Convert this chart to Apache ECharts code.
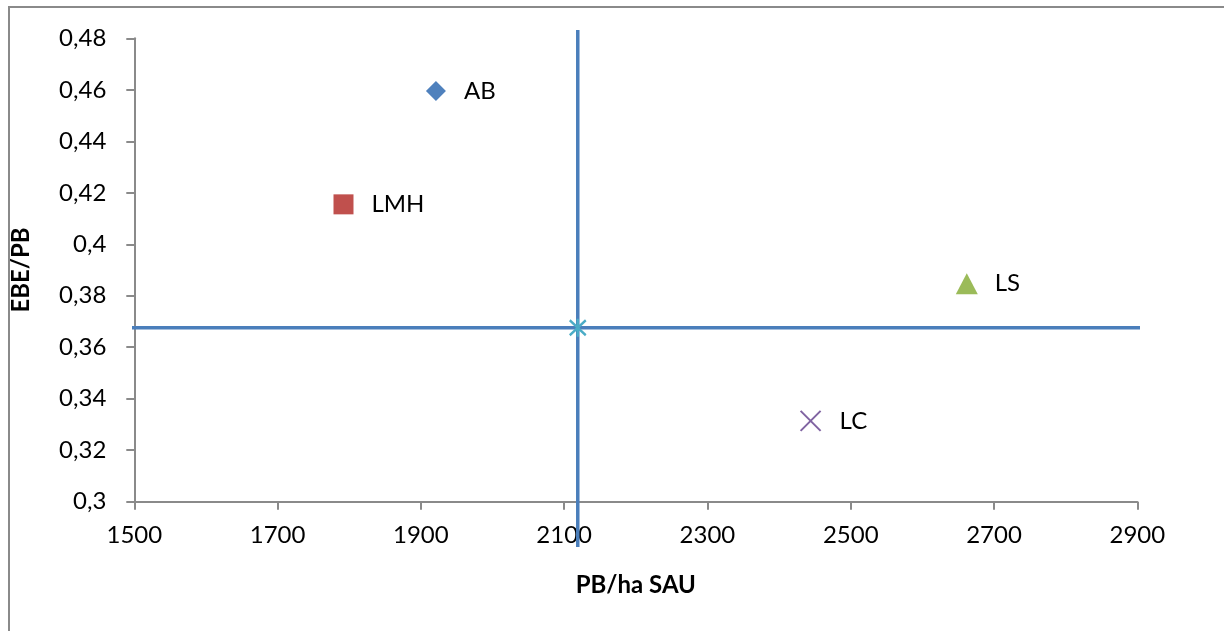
<!DOCTYPE html>
<html>
<head>
<meta charset="utf-8">
<script src="https://cdn.jsdelivr.net/npm/echarts@6/dist/echarts.min.js"></script>
<style>html,body{margin:0;padding:0;background:#fff}#c{width:1224px;height:631px}</style>
</head>
<body>
<div id="c"></div>
<script>
// Data
const names = ['AB', 'LMH', 'LS', 'LC'];
const xValues = [1921, 1792, 2662, 2444];
const yValues = [0.4595, 0.4155, 0.3847, 0.3314];
const centerX = 2119;
const centerY = 0.3676;
const vLineY = [0.4832, 0.2824];
const hLineX = [1495, 2905];
const xTicks = {min: 1500, max: 2900, interval: 200};
const yTicks = {min: 0.3, max: 0.48, interval: 0.02};

const colors = ['#4F81BD', '#C0504D', '#9BBB59', '#8064A2'];
const symbols = ['diamond', 'rect', 'triangle', 'path://M0,0L10,10M10,0L0,10'];
const sizes = [[20, 20], [20, 20], [22, 21], [20, 20]];
const FONT = 'Lato';

const fmt = v => String(+(+v).toFixed(2)).replace('.', ',');

const chart = echarts.init(document.getElementById('c'), null, {renderer: 'canvas'});

const pointSeries = names.map((n, i) => {
  const isCross = i === 3;
  return {
    type: 'scatter',
    name: n,
    data: [[xValues[i], yValues[i]]],
    symbol: symbols[i],
    symbolSize: sizes[i],
    itemStyle: isCross
      ? {color: 'rgba(0,0,0,0)', borderColor: colors[i], borderWidth: 2, opacity: 1}
      : {color: colors[i], opacity: 1},
    label: {
      show: true,
      position: 'right',
      distance: 28 - sizes[i][0] / 2,
      formatter: n,
      color: '#000',
      fontFamily: FONT,
      fontSize: 24
    },
    z: 5
  };
});

const option = {
  animation: false,
  backgroundColor: '#fff',
  graphic: [{
    type: 'rect',
    shape: {x: 9, y: 7, width: 1400, height: 800},
    style: {fill: 'none', stroke: '#8a8a8a', lineWidth: 2},
    z: -1
  }],
  grid: {left: 134.3, right: 86.7, top: 38.3, bottom: 129.3},
  xAxis: {
    type: 'value',
    min: xTicks.min, max: xTicks.max, interval: xTicks.interval,
    name: 'PB/ha SAU',
    nameLocation: 'middle',
    nameGap: 72,
    nameTextStyle: {fontFamily: FONT, fontWeight: 'bold', fontSize: 24, color: '#000'},
    axisLine: {show: true, lineStyle: {color: '#8a8a8a', width: 2}},
    axisTick: {show: true, inside: false, length: 8, lineStyle: {color: '#8a8a8a', width: 2}},
    axisLabel: {fontFamily: FONT, fontSize: 24, color: '#000', margin: 22, formatter: v => String(v)},
    splitLine: {show: false}
  },
  yAxis: {
    type: 'value',
    min: yTicks.min, max: yTicks.max, interval: yTicks.interval,
    name: 'EBE/PB',
    nameLocation: 'middle',
    nameGap: 101,
    nameRotate: 90,
    nameTextStyle: {fontFamily: FONT, fontWeight: 'bold', fontSize: 24, color: '#000'},
    axisLine: {show: true, lineStyle: {color: '#8a8a8a', width: 2}},
    axisTick: {show: true, inside: false, length: 8, lineStyle: {color: '#8a8a8a', width: 2}},
    axisLabel: {fontFamily: FONT, fontSize: 24, color: '#000', margin: 28, formatter: fmt},
    splitLine: {show: false}
  },
  series: [
    {
      type: 'line',
      data: [[centerX, vLineY[0]], [centerX, vLineY[1]]],
      symbol: 'none',
      clip: false,
      lineStyle: {color: '#4A7EBB', width: 3.5},
      z: 2
    },
    {
      type: 'line',
      data: [[hLineX[0], centerY], [hLineX[1], centerY]],
      symbol: 'none',
      clip: false,
      lineStyle: {color: '#4A7EBB', width: 3.5},
      z: 2
    },
    {
      type: 'scatter',
      data: [[centerX, centerY]],
      symbol: 'path://M0,0L10,10M10,0L0,10M5,-1L5,11',
      symbolSize: [16, 18],
      itemStyle: {color: 'rgba(0,0,0,0)', borderColor: '#4BACC6', borderWidth: 2.5, opacity: 1},
      z: 4
    },
    ...pointSeries
  ]
};
chart.setOption(option);
</script>
</body>
</html>
